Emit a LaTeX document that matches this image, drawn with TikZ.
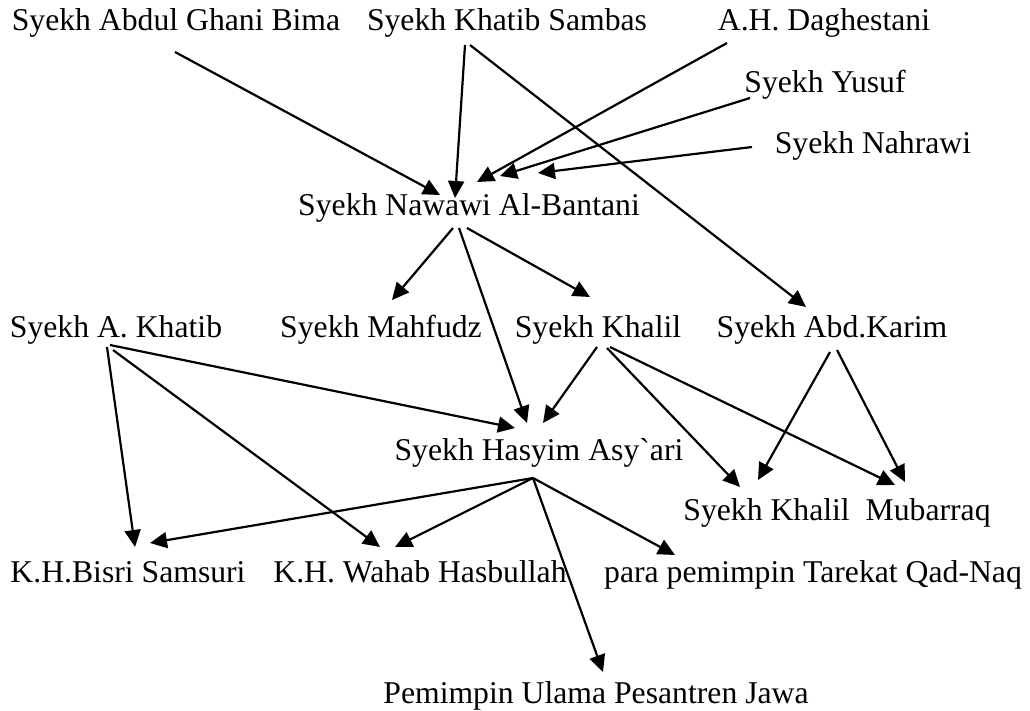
\documentclass[tikz,border=0pt]{standalone}
\usepackage{fontspec}
\setmainfont{Liberation Serif}
\usetikzlibrary{arrows.meta}
\usetikzlibrary{calc}

\begin{document}
\begin{tikzpicture}[x=1pt,y=-1pt,->,>={Triangle[length=17pt,width=16pt]},line width=2.2pt,
    name node/.style={anchor=base,inner sep=0pt,font=\fontsize{31.7}{38}\selectfont}]
  \useasboundingbox (0,0) rectangle (1030,710);
  % baris atas
  \node[name node] (bima) at (176,30) {Syekh Abdul Ghani Bima};
  \node[name node] (sambas) at (507,30) {Syekh Khatib Sambas};
  \node[name node] (daghestani) at (824,30) {A.H. Daghestani};
  \node[name node] (yusuf) at (825,92) {Syekh Yusuf};
  \node[name node] (nahrawi) at (873,153) {Syekh Nahrawi};
  \node[name node] (nawawi) at (469,215) {Syekh Nawawi Al-Bantani};
  % baris tengah
  \node[name node] (akhatib) at (116,337) {Syekh A. Khatib};
  \node[name node] (mahfudz) at (381,337) {Syekh Mahfudz};
  \node[name node] (khalil) at (598,337) {Syekh Khalil};
  \node[name node] (karim) at (832,337) {Syekh Abd.Karim};
  \node[name node] (hasyim) at (539,460) {Syekh Hasyim Asy\textasciigrave ari};
  \node[name node] (mubarraq) at (837,520) {Syekh Khalil\ \ Mubarraq};
  % baris bawah
  \node[name node] (bisri) at (128,582) {K.H.Bisri Samsuri};
  \node[name node] (wahab) at (420,582) {K.H. Wahab Hasbullah};
  \node[name node] (tarekat) at (813,582) {para pemimpin Tarekat Qad-Naq};
  \node[name node] (pesantren) at (596,703) {Pemimpin Ulama Pesantren Jawa};

  \path ($(bima.base)+(-1,22)$) edge ($(nawawi.base)+(-29,-20)$);
  \path ($(sambas.base)+(-42,15)$) edge ($(nawawi.base)+(-14,-17)$);
  \path ($(sambas.base)+(-37,15)$) edge ($(karim.base)+(-26,-30)$);
  \path ($(daghestani.base)+(-97,13)$) edge ($(nawawi.base)+(8,-33)$);
  \path ($(yusuf.base)+(-75,6)$) edge ($(nawawi.base)+(31,-39)$);
  \path ($(nahrawi.base)+(-121,-6)$) edge ($(nawawi.base)+(69,-42)$);

  \path ($(nawawi.base)+(-16,13)$) edge ($(mahfudz.base)+(11,-37)$);
  \path ($(nawawi.base)+(-10,13)$) edge ($(hasyim.base)+(-12,-37)$);
  \path ($(nawawi.base)+(-2,13)$) edge ($(khalil.base)+(-8,-40)$);

  \path ($(akhatib.base)+(-9,10)$) edge ($(bisri.base)+(7,-35)$);
  \path ($(akhatib.base)+(-6,8)$) edge ($(hasyim.base)+(-24,-32)$);
  \path ($(akhatib.base)+(-3,13)$) edge ($(wahab.base)+(-40,-35)$);

  \path ($(khalil.base)+(-1,10)$) edge ($(hasyim.base)+(4,-37)$);
  \path ($(khalil.base)+(9,11)$) edge ($(mubarraq.base)+(-97,-33)$);
  \path ($(khalil.base)+(12,10)$) edge ($(mubarraq.base)+(58,-35)$);
  \path ($(karim.base)+(-2,15)$) edge ($(mubarraq.base)+(-79,-40)$);
  \path ($(karim.base)+(5,13)$) edge ($(mubarraq.base)+(68,-38)$);

  \path ($(hasyim.base)+(-6,18)$) edge ($(bisri.base)+(22,-39)$);
  \path ($(hasyim.base)+(-6,18)$) edge ($(wahab.base)+(-25,-35)$);
  \path ($(hasyim.base)+(-6,18)$) edge ($(tarekat.base)+(-138,-27)$);
  \path ($(hasyim.base)+(-6,18)$) edge ($(pesantren.base)+(7,-31)$);
\end{tikzpicture}
\end{document}
